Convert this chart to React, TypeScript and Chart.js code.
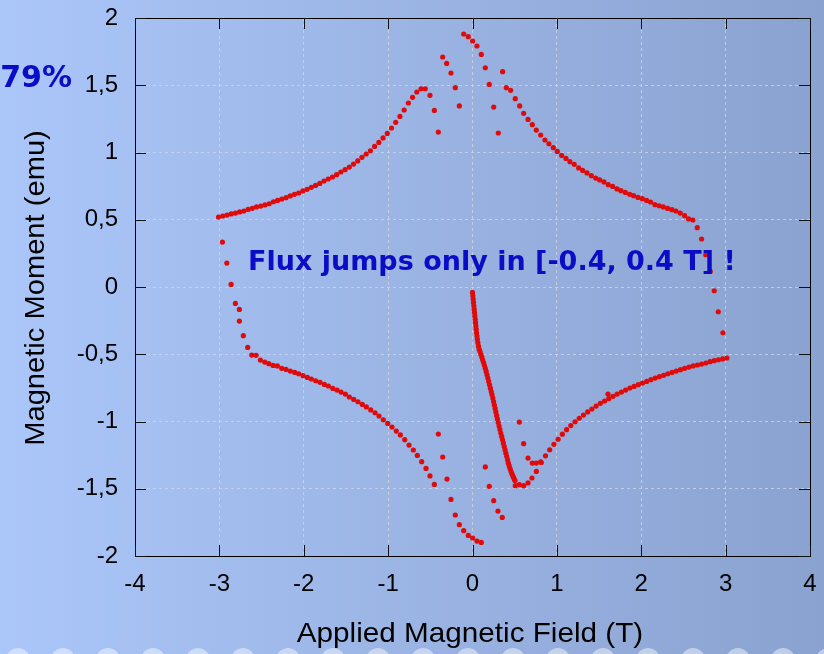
import React, { useEffect, useRef } from "react";
import { Chart, registerables } from "chart.js";

Chart.register(...registerables);

const xTicks = [-4, -3, -2, -1, 0, 1, 2, 3, 4];
const yTicks = [-2, -1.5, -1, -0.5, 0, 0.5, 1, 1.5, 2];
const xTitle = "Applied Magnetic Field (T)";
const yTitle = "Magnetic Moment (emu)";
const noteText = "Flux jumps only in [-0.4, 0.4 T] !";
const cornerText = "79%";

type P = [number, number];

const upperLeft: P[] = [
  [-3.01, 0.52], [-2.96, 0.528], [-2.91, 0.535], [-2.86, 0.543], [-2.81, 0.55], [-2.76, 0.558],
  [-2.71, 0.565], [-2.66, 0.577], [-2.61, 0.585], [-2.56, 0.595], [-2.51, 0.602], [-2.46, 0.61],
  [-2.41, 0.619], [-2.36, 0.634], [-2.31, 0.644], [-2.26, 0.654], [-2.21, 0.664], [-2.16, 0.677],
  [-2.11, 0.689], [-2.06, 0.699], [-2.01, 0.714], [-1.96, 0.726], [-1.91, 0.741], [-1.86, 0.755],
  [-1.81, 0.77], [-1.76, 0.788], [-1.71, 0.803], [-1.66, 0.818], [-1.61, 0.835], [-1.56, 0.855],
  [-1.51, 0.872], [-1.46, 0.892], [-1.41, 0.914], [-1.36, 0.937], [-1.31, 0.964], [-1.26, 0.989],
  [-1.21, 1.013], [-1.16, 1.045], [-1.11, 1.075], [-1.06, 1.108], [-1.01, 1.142], [-0.96, 1.182],
  [-0.91, 1.224], [-0.86, 1.268], [-0.81, 1.316], [-0.76, 1.368], [-0.71, 1.41], [-0.66, 1.45],
  [-0.61, 1.474], [-0.56, 1.474], [-0.504, 1.425], [-0.452, 1.313], [-0.405, 1.152],
];

const upperJumps: P[] = [
  [-0.353, 1.71], [-0.306, 1.662], [-0.255, 1.591], [-0.204, 1.482], [-0.156, 1.346],
  [-0.104, 1.881], [-0.05, 1.861], [0.002, 1.829], [0.053, 1.792], [0.104, 1.729],
  [0.152, 1.63], [0.199, 1.506], [0.251, 1.338], [0.306, 1.145],
];

const upperRight: P[] = [
  [0.357, 1.601], [0.401, 1.482], [0.452, 1.462], [0.507, 1.4], [0.559, 1.346], [0.606, 1.291],
  [0.658, 1.246], [0.709, 1.207], [0.756, 1.167], [0.808, 1.13], [0.859, 1.093], [0.906, 1.065],
  [0.958, 1.036], [1.005, 1.008], [1.057, 0.978], [1.108, 0.956], [1.155, 0.932], [1.206, 0.912],
  [1.258, 0.885], [1.306, 0.867], [1.357, 0.848], [1.408, 0.828], [1.46, 0.81], [1.507, 0.796],
  [1.558, 0.781], [1.609, 0.761], [1.661, 0.748], [1.712, 0.729], [1.759, 0.716], [1.811, 0.703],
  [1.863, 0.689], [1.91, 0.679], [1.961, 0.666], [2.012, 0.657], [2.064, 0.644], [2.111, 0.632],
  [2.162, 0.612], [2.213, 0.604], [2.261, 0.595], [2.313, 0.584], [2.364, 0.575], [2.411, 0.565],
  [2.462, 0.55], [2.514, 0.53], [2.561, 0.506], [2.612, 0.498],
];

const rightEdge: P[] = [
  [2.664, 0.441], [2.715, 0.357], [2.765, 0.24], [2.818, 0.116], [2.865, -0.028],
  [2.913, -0.184], [2.968, -0.34], [3.015, -0.528],
];

const lowerRight: P[] = [
  [2.965, -0.535], [2.915, -0.541], [2.865, -0.548], [2.815, -0.555], [2.765, -0.565],
  [2.715, -0.573], [2.665, -0.58], [2.615, -0.587], [2.565, -0.595], [2.515, -0.605],
  [2.465, -0.615], [2.415, -0.625], [2.365, -0.635], [2.315, -0.645], [2.265, -0.657],
  [2.215, -0.667], [2.165, -0.677], [2.115, -0.689], [2.065, -0.702], [2.015, -0.714],
  [1.965, -0.726], [1.915, -0.739], [1.865, -0.751], [1.815, -0.766], [1.765, -0.781],
  [1.715, -0.796], [1.665, -0.813], [1.615, -0.83], [1.565, -0.848], [1.515, -0.865],
  [1.465, -0.885], [1.415, -0.907], [1.365, -0.929], [1.315, -0.952], [1.265, -0.976],
  [1.215, -1.002], [1.165, -1.03], [1.115, -1.061], [1.065, -1.094], [1.015, -1.132],
  [0.965, -1.17], [0.915, -1.21], [0.865, -1.255], [0.815, -1.305], [0.757, -1.371],
  [0.705, -1.42], [0.658, -1.457], [0.606, -1.477], [0.555, -1.47], [0.507, -1.477],
];

const lowerRightJumps: P[] = [
  [0.555, -1.004], [0.606, -1.165], [0.658, -1.272], [0.709, -1.309], [0.756, -1.309],
  [0.808, -1.3], [1.606, -0.796],
];

const leftEdge: P[] = [
  [-2.964, 0.334], [-2.912, 0.178], [-2.861, 0.019], [-2.81, -0.122], [-2.763, -0.167],
  [-2.763, -0.253], [-2.716, -0.362], [-2.664, -0.449],
];

const lowerLeft: P[] = [
  [-2.616, -0.506], [-2.565, -0.508], [-2.514, -0.543], [-2.462, -0.558], [-2.415, -0.57],
  [-2.364, -0.583], [-2.313, -0.587], [-2.261, -0.605], [-2.21, -0.613], [-2.159, -0.625],
  [-2.107, -0.635], [-2.06, -0.645], [-2.008, -0.659], [-1.957, -0.672], [-1.91, -0.684],
  [-1.858, -0.697], [-1.807, -0.709], [-1.756, -0.724], [-1.708, -0.736], [-1.656, -0.754],
  [-1.605, -0.766], [-1.558, -0.781], [-1.507, -0.796], [-1.46, -0.818], [-1.408, -0.836],
  [-1.357, -0.853], [-1.306, -0.873], [-1.258, -0.892], [-1.206, -0.914], [-1.155, -0.935],
  [-1.108, -0.959], [-1.057, -0.987], [-1.005, -1.014], [-0.954, -1.041], [-0.903, -1.071],
  [-0.855, -1.1], [-0.803, -1.135], [-0.752, -1.175], [-0.701, -1.212], [-0.654, -1.252],
  [-0.602, -1.299], [-0.551, -1.349], [-0.504, -1.405], [-0.452, -1.468],
];

const lowerJumps: P[] = [
  [-0.405, -1.093], [-0.353, -1.264], [-0.302, -1.428], [-0.255, -1.579], [-0.204, -1.695],
  [-0.156, -1.767], [-0.104, -1.812], [-0.05, -1.847], [0.002, -1.866], [0.053, -1.889],
  [0.104, -1.899], [0.152, -1.338], [0.199, -1.482], [0.251, -1.589], [0.302, -1.666],
  [0.353, -1.713],
];

const virgin: P[] = [
  [0.0, -0.04], [0.004, -0.065], [0.008, -0.09], [0.012, -0.115], [0.016, -0.14], [0.02, -0.165],
  [0.024, -0.19], [0.028, -0.215], [0.032, -0.24], [0.036, -0.265], [0.04, -0.29], [0.044, -0.315],
  [0.048, -0.34], [0.053, -0.365], [0.058, -0.39], [0.064, -0.415], [0.071, -0.44], [0.079, -0.462],
  [0.089, -0.48], [0.099, -0.5], [0.11, -0.52], [0.12, -0.541], [0.131, -0.562], [0.141, -0.582],
  [0.152, -0.604], [0.162, -0.628], [0.172, -0.652], [0.182, -0.677], [0.192, -0.702], [0.202, -0.727],
  [0.212, -0.752], [0.222, -0.777], [0.231, -0.8], [0.241, -0.826], [0.25, -0.852], [0.259, -0.878],
  [0.268, -0.903], [0.277, -0.929], [0.286, -0.955], [0.295, -0.981], [0.305, -1.008], [0.315, -1.034],
  [0.325, -1.06], [0.335, -1.086], [0.346, -1.111], [0.356, -1.136], [0.366, -1.161], [0.376, -1.186],
  [0.386, -1.211], [0.396, -1.236], [0.406, -1.261], [0.416, -1.286], [0.425, -1.31], [0.435, -1.33],
  [0.445, -1.35], [0.455, -1.368], [0.465, -1.385], [0.475, -1.4], [0.485, -1.414], [0.495, -1.428],
  [0.503, -1.438],
];

const SANS = "'Liberation Sans', Arial, sans-serif";
const BOLD = "'DejaVu Sans', Verdana, sans-serif";

function zeroPad(s: any) {
  s.paddingTop = 0;
  s.paddingBottom = 0;
  s.paddingLeft = 0;
  s.paddingRight = 0;
}

export default function App() {
  const ref = useRef<HTMLCanvasElement>(null);

  useEffect(() => {
    document.body.style.margin = "0";
    const canvas = ref.current;
    if (!canvas) return;

    const pts = [
      ...upperLeft, ...upperJumps, ...upperRight, ...rightEdge, ...lowerRight,
      ...lowerRightJumps, ...leftEdge, ...lowerLeft, ...lowerJumps, ...virgin,
    ].map(([x, y]) => ({ x, y }));

    const deco = {
      id: "deco",
      beforeDraw(chart: any) {
        const { ctx, width, height } = chart;
        ctx.save();
        const g = ctx.createLinearGradient(0, 0, width, 0);
        g.addColorStop(0, "#abc6f9");
        g.addColorStop(1, "#8aa2cf");
        ctx.fillStyle = g;
        ctx.fillRect(0, 0, width, height);
        ctx.fillStyle = "rgba(255,255,255,0.45)";
        for (let cx = 18; cx < width + 24; cx += 45) {
          ctx.beginPath();
          ctx.arc(cx, height + 6, 12, 0, Math.PI * 2);
          ctx.fill();
        }
        ctx.restore();
      },
      afterDraw(chart: any) {
        const { ctx, chartArea } = chart;
        const { left, right, top, bottom } = chartArea;
        const xs = chart.scales.x;
        const ys = chart.scales.y;
        ctx.save();
        ctx.strokeStyle = "#000";
        ctx.lineWidth = 1;
        ctx.strokeRect(Math.round(left) + 0.5, Math.round(top) + 0.5, Math.round(right - left), Math.round(bottom - top));
        ctx.strokeStyle = "#111";
        ctx.beginPath();
        xTicks.forEach((v) => {
          const px = Math.round(xs.getPixelForValue(v)) + 0.5;
          ctx.moveTo(px, bottom); ctx.lineTo(px, bottom - 11);
          ctx.moveTo(px, top); ctx.lineTo(px, top + 11);
        });
        yTicks.forEach((v) => {
          const py = Math.round(ys.getPixelForValue(v)) + 0.5;
          ctx.moveTo(left, py); ctx.lineTo(left + 11, py);
          ctx.moveTo(right, py); ctx.lineTo(right - 11, py);
        });
        ctx.stroke();

        ctx.fillStyle = "#000";
        ctx.font = `28px ${SANS}`;
        ctx.textAlign = "center";
        ctx.textBaseline = "middle";
        ctx.save();
        ctx.translate(470, 634);
        ctx.scale(1.06, 1);
        ctx.fillText(xTitle, 0, 0);
        ctx.restore();
        ctx.save();
        ctx.translate(36, 288);
        ctx.rotate(-Math.PI / 2);
        ctx.scale(1.04, 1);
        ctx.fillText(yTitle, 0, 0);
        ctx.restore();

        ctx.fillStyle = "#0c0cc6";
        ctx.textBaseline = "alphabetic";
        ctx.font = `bold 27px ${BOLD}`;
        ctx.textAlign = "left";
        ctx.fillText(noteText, 248, 270);
        ctx.font = `bold 30px ${BOLD}`;
        ctx.textAlign = "right";
        ctx.fillText(cornerText, 72, 87);
        ctx.restore();
      },
    };

    const chart = new Chart(canvas, {
      type: "scatter",
      data: {
        datasets: [
          {
            data: pts,
            backgroundColor: "#e00a0a",
            borderWidth: 0,
            pointRadius: 2.6,
            pointHoverRadius: 2.6,
          },
        ],
      },
      options: {
        responsive: false,
        animation: false,
        events: [],
        layout: { padding: { top: 18, right: 14, left: 0, bottom: 0 } },
        plugins: { legend: { display: false }, tooltip: { enabled: false } },
        scales: {
          x: {
            type: "linear",
            min: -4,
            max: 4,
            afterBuildTicks: (s: any) => {
              s.ticks = xTicks.map((v) => ({ value: v }));
            },
            afterFit: (s: any) => {
              s.height = 98;
              zeroPad(s);
            },
            grid: { color: "rgba(210,212,222,0.8)", drawTicks: false, lineWidth: 1 },
            border: { display: false, dash: [3, 3] },
            ticks: {
              font: { family: SANS, size: 24 },
              color: "#000",
              padding: 14,
              maxRotation: 0,
              autoSkip: false,
              callback: (v: any) => String(v),
            },
          },
          y: {
            type: "linear",
            min: -2,
            max: 2,
            afterBuildTicks: (s: any) => {
              s.ticks = yTicks.map((v) => ({ value: v }));
            },
            afterFit: (s: any) => {
              s.width = 135;
              zeroPad(s);
            },
            grid: { color: "rgba(210,212,222,0.8)", drawTicks: false, lineWidth: 1 },
            border: { display: false, dash: [3, 3] },
            ticks: {
              font: { family: SANS, size: 24 },
              color: "#000",
              padding: 17,
              autoSkip: false,
              callback: (v: any) => String(v).replace(".", ","),
            },
          },
        },
      },
      plugins: [deco],
    });

    return () => chart.destroy();
  }, []);

  return (
    <div style={{ width: 824, height: 654, overflow: "hidden" }}>
      <canvas ref={ref} width={824} height={654} style={{ display: "block" }} />
    </div>
  );
}
